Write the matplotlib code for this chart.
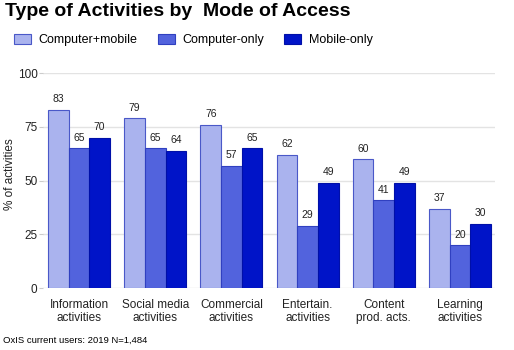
from matplotlib import pyplot as plt
import numpy as np

categories = ['Information\nactivities', 'Social media\nactivities', 'Commercial\nactivities',
              'Entertain.\nactivities', 'Content\nprod. acts.', 'Learning\nactivities']
computer_mobile = [83, 79, 76, 62, 60, 37]
computer_only = [65, 65, 57, 29, 41, 20]
mobile_only = [70, 64, 65, 49, 49, 30]
series_names = ['Computer+mobile', 'Computer-only', 'Mobile-only']
yticks = [0, 25, 50, 75, 100]

plt.rcParams['font.family'] = ['Liberation Sans', 'DejaVu Sans']

colors = ['#aab3ee', '#5263dd', '#0014c8']
edges = ['#4a58c8', '#3040c0', '#0010a8']

fig = plt.figure(figsize=(5.14, 3.5), dpi=100)
ax = fig.add_axes([43 / 514, 0.177, 452 / 514, 0.614])

x = np.arange(len(categories))
w = 0.271
for i, vals in enumerate([computer_mobile, computer_only, mobile_only]):
    pos = x + (i - 1) * w
    bars = ax.bar(pos, vals, width=w, color=colors[i], edgecolor=edges[i],
                  linewidth=0.8, label=series_names[i], zorder=3)
    for b, v in zip(bars, vals):
        ax.text(b.get_x() + b.get_width() / 2, v + 2.5, str(v),
                ha='center', va='bottom', fontsize=7.5, color='#222222')

ax.set_xlim(-0.472, 5.459)
ax.set_ylim(0, 100)
ax.set_yticks(yticks)
ax.set_xticks(x)
ax.set_xticklabels(categories, fontsize=8.5, color='#222222', linespacing=1.05)
ax.tick_params(axis='y', labelsize=8.5, colors='#222222', length=3, pad=1,
               color='#cccccc')
ax.tick_params(axis='x', length=0, pad=8)
ax.grid(axis='y', color='#e3e3e3', linewidth=1, zorder=0)
for s in ax.spines.values():
    s.set_visible(False)

fig.text(10 / 514, 0.503, '% of activities', fontsize=8.5, color='#222222',
         rotation=90, ha='center', va='center')
fig.text(0.01, 0.99, 'Type of Activities by  Mode of Access', fontsize=14,
         fontweight='bold', ha='left', va='top')
fig.legend(loc='upper left', bbox_to_anchor=(0.005, 0.935), ncol=3, frameon=False,
           fontsize=9, handlelength=1.36, handleheight=0.88, columnspacing=1.6,
           handletextpad=0.64)
fig.text(0.005, 0.015, 'OxIS current users: 2019 N=1,484', fontsize=6.8,
         ha='left', va='bottom')

fig.savefig('out.png', dpi=100)
